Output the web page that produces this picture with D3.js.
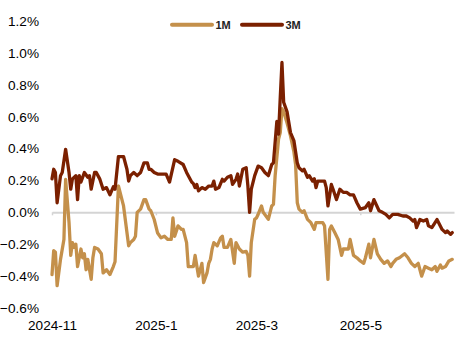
<!DOCTYPE html>
<html>
<head>
<meta charset="utf-8">
<script src="https://cdn.jsdelivr.net/npm/d3@7"></script>
<style>
  html, body { margin: 0; padding: 0; background: #fff; }
  svg { display: block; font-family: "Liberation Sans", Arial, sans-serif; }
</style>
</head>
<body>
<svg id="chart" width="466" height="338"></svg>
<script>
// ---- data ----
const startDate = "2024-11-01";
const endDate = "2025-06-25";
const seriesNames = ["1M", "3M"];
const seriesColors = ["#C4904B", "#7B2000"];

// days since startDate
const days1M = [0,1,2,3,5,7,8,10,11,12,
  13,14,15,17,18,19,20,21,23,24,
  25,27,29,30,32,34,36,37,39,42,
  45,46,48,49,50,52,54,55,57,58,
  60,62,64,66,68,70,71,72,74,76,
  77,79,80,83,84,86,88,89,91,92,
  93,94,95,97,99,100,101,103,105,107,
  108,110,112,114,115,116,117,119,120,121,
  123,124,127,129,130,131,133,134,135,136,
  138,140,142,143,144,145,147,148,150,152,
  154,155,159,160,162,163,164,166,168,170,
  171,174,175,177,179,181,183,184,186,187,
  189,191,193,195,197,199,200,202,204,207,
  209,211,213,215,216,217,219,221,223,225,
  226,228,229,231,233,235];
const values1M = [-0.39,-0.24,-0.25,-0.46,-0.295,-0.17,0.207,-0.065,-0.27,-0.19,
  -0.22,-0.20,-0.34,-0.23,-0.285,-0.26,-0.36,-0.295,-0.42,-0.285,
  -0.22,-0.23,-0.26,-0.38,-0.36,-0.39,-0.34,-0.31,0.165,0.04,
  -0.21,-0.19,-0.17,-0.15,0.0,0.02,0.08,0.08,0.02,0.01,
  -0.045,-0.13,-0.16,-0.15,-0.17,-0.17,-0.035,-0.15,-0.085,-0.107,
  -0.107,-0.19,-0.34,-0.34,-0.27,-0.40,-0.32,-0.44,-0.38,-0.32,
  -0.295,-0.23,-0.19,-0.21,-0.16,-0.15,-0.22,-0.22,-0.17,-0.32,
  -0.19,-0.23,-0.25,-0.245,-0.27,-0.40,-0.19,-0.044,-0.035,-0.013,
  0.04,0.0,-0.044,0.04,0.05,0.23,0.46,0.50,0.65,0.63,
  0.56,0.48,0.38,0.30,0.06,0.02,0.0,0.01,-0.044,-0.065,
  -0.107,-0.065,-0.065,-0.085,-0.42,-0.107,-0.085,-0.127,-0.17,-0.27,
  -0.23,-0.23,-0.17,-0.27,-0.285,-0.305,-0.32,-0.285,-0.20,-0.285,
  -0.17,-0.26,-0.295,-0.32,-0.305,-0.34,-0.32,-0.295,-0.285,-0.26,
  -0.285,-0.32,-0.34,-0.32,-0.36,-0.40,-0.34,-0.35,-0.36,-0.34,
  -0.37,-0.33,-0.35,-0.34,-0.305,-0.295];

const days3M = [0,1,2,3,5,6,8,10,11,12,
  14,15,16,17,19,21,22,23,25,26,
  28,30,32,34,36,37,39,42,44,45,
  46,48,50,52,54,56,57,58,60,62,
  67,69,72,74,77,79,82,83,84,85,
  86,88,90,92,94,95,96,98,100,101,
  103,105,106,108,109,110,112,114,115,116,
  117,119,121,123,125,127,129,130,131,132,
  133,134,135,136,138,140,142,144,145,147,
  148,150,151,153,154,155,156,160,161,162,
  164,165,167,169,171,173,175,177,179,181,
  184,186,187,189,192,194,196,198,200,203,
  206,208,210,212,213,214,216,218,220,221,
  223,226,227,229,231,232,234,235];
const values3M = [0.21,0.27,0.25,0.06,0.23,0.25,0.395,0.25,0.145,0.21,
  0.23,0.08,0.23,0.19,0.25,0.22,0.23,0.145,0.25,0.25,
  0.21,0.145,0.155,0.11,0.16,0.145,0.35,0.35,0.27,0.196,
  0.23,0.25,0.23,0.25,0.31,0.31,0.27,0.27,0.25,0.24,
  0.24,0.19,0.33,0.32,0.30,0.25,0.19,0.18,0.155,0.175,
  0.135,0.155,0.145,0.165,0.165,0.196,0.145,0.155,0.207,0.196,
  0.22,0.23,0.175,0.207,0.24,0.165,0.27,0.28,0.165,0.0,
  0.145,0.23,0.29,0.28,0.25,0.23,0.30,0.31,0.44,0.57,
  0.49,0.72,0.94,0.69,0.63,0.50,0.45,0.31,0.28,0.26,
  0.27,0.22,0.23,0.196,0.21,0.155,0.196,0.196,0.155,0.04,
  0.175,0.145,0.08,0.145,0.125,0.125,0.11,0.11,0.06,0.02,
  0.03,0.06,0.01,0.08,0.01,0.0,-0.013,-0.035,-0.013,-0.013,
  -0.023,-0.023,-0.035,-0.055,-0.045,-0.096,-0.045,-0.055,-0.045,-0.085,
  -0.096,-0.045,-0.065,-0.107,-0.127,-0.117,-0.138,-0.127];

const xTickDates = ["2024-11-01", "2025-01-01", "2025-03-01", "2025-05-01"];
const xTickLabels = ["2024-11", "2025-1", "2025-3", "2025-5"];
const yTicks = [-0.6, -0.4, -0.2, 0.0, 0.2, 0.4, 0.6, 0.8, 1.0, 1.2];

// ---- drawing ----
const parse = d3.timeParse("%Y-%m-%d");
const start = parse(startDate);
const svg = d3.select("#chart");

const x = d3.scaleTime().domain([start, parse(endDate)]).range([52, 454]);
const y = d3.scaleLinear().domain([-0.6, 1.2]).range([308, 21]);

function toPoints(days, vals) {
  const n = Math.min(days.length, vals.length);
  const pts = [];
  for (let i = 0; i < n; i++) pts.push({ date: d3.timeDay.offset(start, days[i]), v: vals[i] });
  return pts;
}
const series = [toPoints(days1M, values1M), toPoints(days3M, values3M)];

// y axis labels
const yAxis = d3.axisLeft(y).tickValues(yTicks).tickSize(0).tickPadding(13)
  .tickFormat(d => d3.format(".1f")(d) + "%");
const gy = svg.append("g").attr("transform", "translate(52,0)").call(yAxis);
gy.select(".domain").remove();
gy.selectAll("text").attr("font-size", 13.6).attr("fill", "#000")
  .attr("font-family", "'Liberation Sans', Arial, sans-serif");

// zero line with ticks
const zeroAxis = d3.axisBottom(x).tickValues(xTickDates.map(parse)).tickSize(3).tickSizeOuter(0).tickFormat("");
const gz = svg.append("g").attr("transform", `translate(0,${y(0)})`).call(zeroAxis);
gz.select(".domain").attr("stroke", "#d4d4d4").attr("stroke-width", 2);
gz.selectAll(".tick line").attr("stroke", "#d4d4d4").attr("stroke-width", 1.5);

// x labels at bottom
const xAxis = d3.axisBottom(x).tickValues(xTickDates.map(parse)).tickSize(0).tickPadding(0)
  .tickFormat((d, i) => xTickLabels[i]);
const gx = svg.append("g").attr("transform", "translate(0,320)").call(xAxis);
gx.select(".domain").remove();
gx.selectAll("text").attr("font-size", 13.6).attr("fill", "#000")
  .attr("font-family", "'Liberation Sans', Arial, sans-serif");

// lines
const line = d3.line().x(d => x(d.date)).y(d => y(d.v));
series.forEach((s, i) => {
  svg.append("path").datum(s)
    .attr("d", line)
    .attr("fill", "none")
    .attr("stroke", seriesColors[i])
    .attr("stroke-width", 3.3)
    .attr("stroke-linejoin", "round")
    .attr("stroke-linecap", "round");
});

// legend
const legendX = [172, 242];
const lg = svg.append("g");
seriesNames.forEach((name, i) => {
  lg.append("line").attr("x1", legendX[i]).attr("x2", legendX[i] + 40)
    .attr("y1", 24.7).attr("y2", 24.7)
    .attr("stroke", seriesColors[i]).attr("stroke-width", 4).attr("stroke-linecap", "round");
  lg.append("text").attr("x", legendX[i] + 43.5).attr("y", 28.8)
    .attr("font-size", 11).attr("font-weight", "bold").attr("fill", "#222")
    .attr("font-family", "'Liberation Sans Narrow', 'Liberation Sans', Arial, sans-serif")
    .text(name);
});
</script>
</body>
</html>
